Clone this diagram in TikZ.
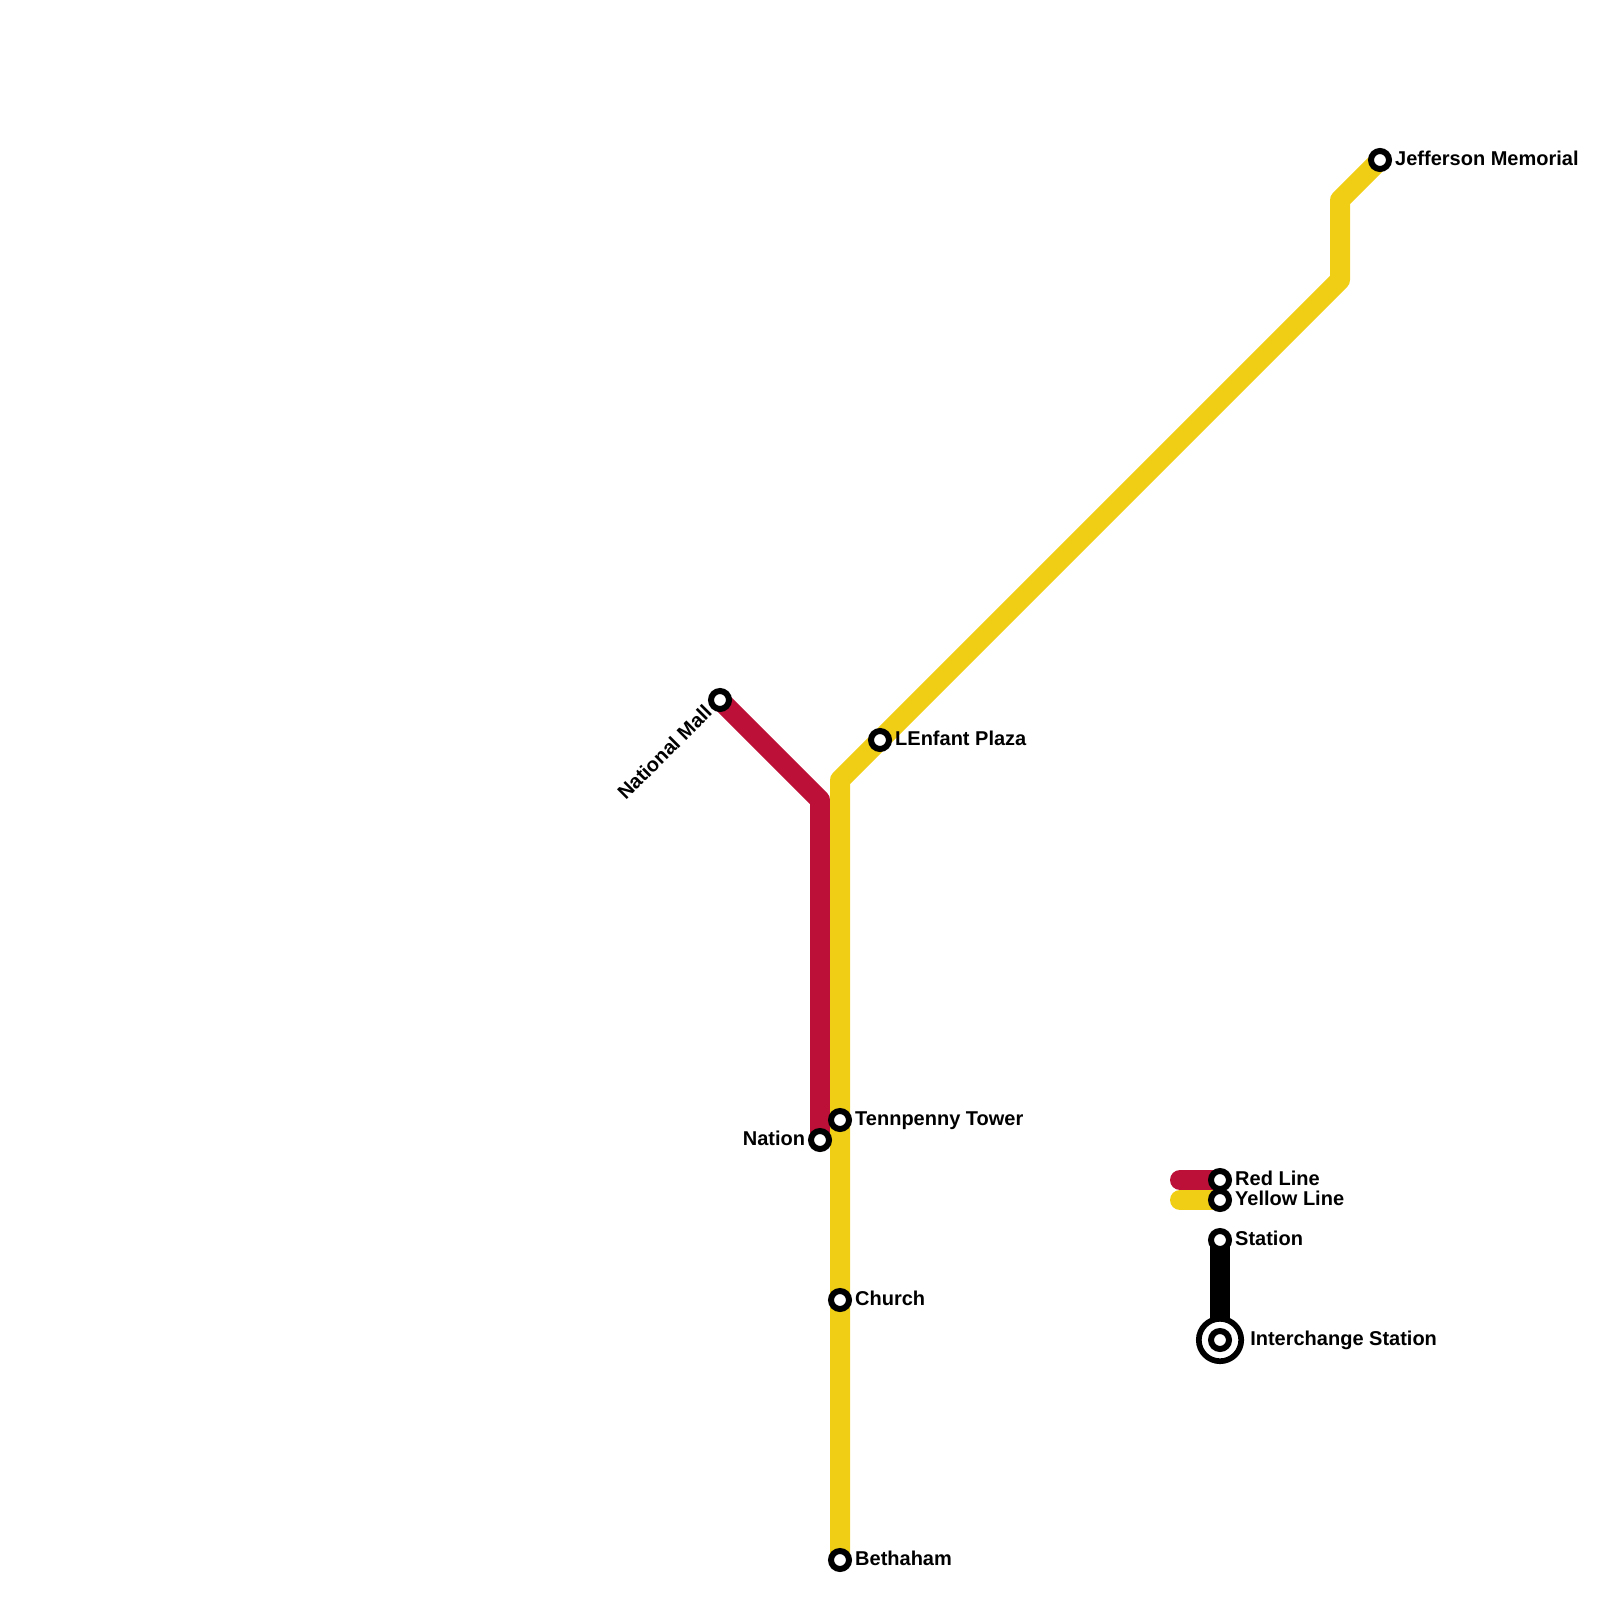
\documentclass[tikz,border=0pt]{standalone}
\usepackage{fontspec}
\setmainfont{Liberation Sans}
\definecolor{redline}{HTML}{BD1038}
\definecolor{yellowline}{HTML}{F0CE15}
\usetikzlibrary{positioning,backgrounds}

\begin{document}
\begin{tikzpicture}[x=1pt,y=-1pt,
  metro/.style={line width=20pt,line cap=round,line join=round},
  stop/.style={circle,draw=black,fill=white,line width=6pt,minimum size=18pt,inner sep=0pt},
  hub/.style={circle,draw=black,fill=white,line width=5.7pt,minimum size=42.4pt,inner sep=0pt},
  lbl/.style={font=\fontsize{20}{24}\bfseries\selectfont,inner sep=0pt,text height=14.6pt,text depth=4.4pt}]
  \useasboundingbox (0,0) rectangle (1600,1600);
  % stations
  \node[stop] (jm) at (1380,160) {};
  \node[stop] (lp) at (880,740) {};
  \node[stop] (tt) at (840,1120) {};
  \node[stop] (ch) at (840,1300) {};
  \node[stop] (bh) at (840,1560) {};
  \node[stop] (nm) at (720,700) {};
  \node[stop] (na) at (820,1140) {};
  \node[lbl,right=3pt of jm] {Jefferson Memorial};
  \node[lbl,right=3pt of lp] {LEnfant Plaza};
  \node[lbl,right=3pt of tt] {Tennpenny Tower};
  \node[lbl,right=3pt of ch] {Church};
  \node[lbl,right=3pt of bh] {Bethaham};
  \node[lbl,left=2.7pt of na] {Nation};
  \node[lbl,rotate=45,anchor=east] at ([shift={(-2,1.5)}]nm.south west) {National Mall};
  % legend
  \node[stop] (lr) at (1220,1180) {};
  \node[stop] (ly) at (1220,1200) {};
  \node[stop] (ls) at (1220,1240) {};
  \node[hub] (li) at (1220,1340) {};
  \node[stop] (lc) at (li.center) {};
  \coordinate (lr0) at (1180,1180);
  \coordinate (ly0) at (1180,1200);
  \node[lbl,right=3pt of lr] {Red Line};
  \node[lbl,right=3pt of ly] {Yellow Line};
  \node[lbl,right=3pt of ls] {Station};
  \node[lbl,right=6pt of li] {Interchange Station};
  % lines
  \coordinate (y1) at (1340,200);
  \coordinate (y2) at (1340,280);
  \coordinate (y3) at (840,780);
  \coordinate (r1) at (820,800);
  \begin{scope}[on background layer]
    \draw[metro,redline] (nm.center) -- (r1) -- (na.center);
    \draw[metro,yellowline] (jm.center) -- (y1) -- (y2) -- (y3) -- (bh.center);
    \draw[metro,redline] (lr0) -- (lr.center);
    \draw[metro,yellowline] (ly0) -- (ly.center);
    \draw[metro,black] (ls.center) -- (li.center);
  \end{scope}
\end{tikzpicture}
\end{document}
